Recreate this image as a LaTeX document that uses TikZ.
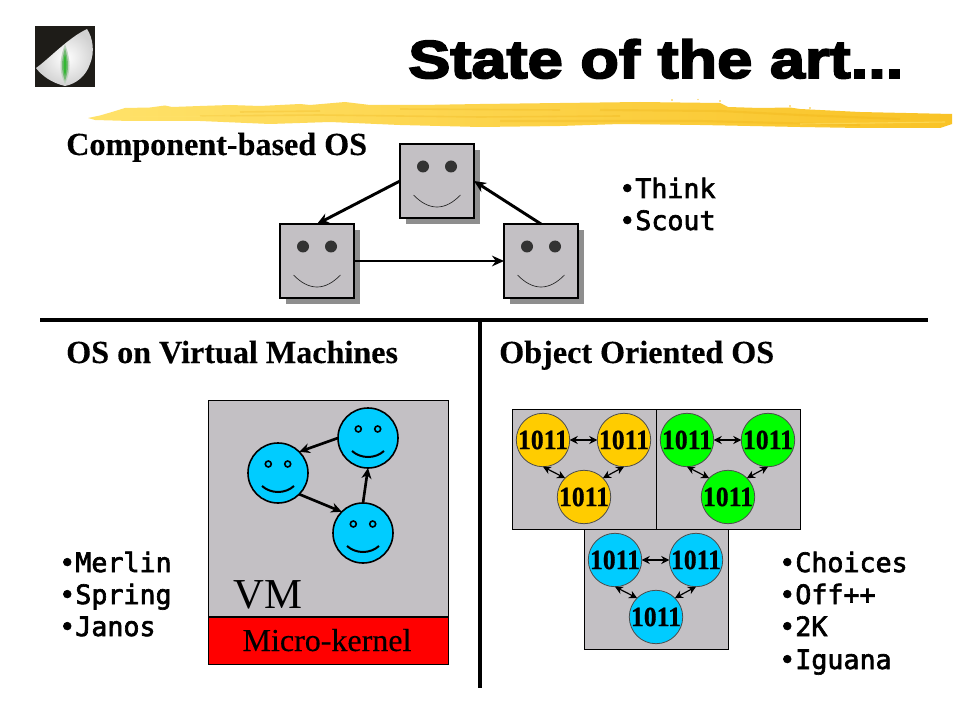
\documentclass[tikz,border=0pt]{standalone}
\usepackage{fontspec}
\usetikzlibrary{arrows.meta}
\setmainfont{Liberation Serif}
\newfontfamily\titlefont[FakeBold=3.6,FakeStretch=1.185]{Liberation Sans Bold}
\newfontfamily\headfont[FakeBold=0.25]{Liberation Serif Bold}
\newfontfamily\bitfont[FakeBold=0.5,FakeStretch=0.92]{Liberation Serif Bold}
\newfontfamily\monofont[FakeBold=2.4]{DejaVu Sans Mono}
\newfontfamily\kernelfont[FakeBold=0.3]{Liberation Serif}
\definecolor{boxgray}{HTML}{C3C0C4}
\definecolor{shadowgray}{HTML}{8E8E8E}
\definecolor{eyegray}{HTML}{333333}
\definecolor{skyfill}{HTML}{00CCFF}
\definecolor{amberfill}{HTML}{FFCC00}
\definecolor{greenfill}{HTML}{00FF00}
\definecolor{logoblack}{HTML}{1E1C18}
\definecolor{brushA}{HTML}{FFE26A}
\definecolor{brushB}{HTML}{FCD040}
\definecolor{brushC}{HTML}{F9C326}
\definecolor{brushD}{HTML}{E8A808}
\tikzset{
  x=0.75pt,y=-0.75pt,
  heading/.style={anchor=base west,inner sep=0,font=\headfont\fontsize{24.1}{26}\selectfont},
  bulletlist/.style={anchor=base west,inner sep=0,font=\monofont\fontsize{20}{24}\selectfont},
  facebox/.style={draw=black,line width=0.9pt,fill=boxgray,minimum size=55.5pt,inner sep=0,outer sep=0},
  facearrow/.style={line width=2.2pt,-{Stealth[length=9pt,width=8pt]}},
  smiley/.style={circle,draw=black,line width=1.2pt,fill=skyfill,minimum size=45pt,inner sep=0,outer sep=0},
  smileyarrow/.style={line width=2pt,-{Stealth[length=8pt,width=7.5pt]}},
  bitnode/.style={circle,draw=black!70,line width=0.6pt,minimum size=39pt,inner sep=0,outer sep=0,font=\bitfont\fontsize{21}{22}\selectfont},
  bitarrow/.style={line width=0.9pt,{Stealth[length=6pt,width=6pt]}-{Stealth[length=6pt,width=6pt]}},
  panel/.style={draw=black,line width=0.75pt,fill=boxgray},
  divider/.style={line width=3pt,black},
  streak/.style={brushD,opacity=.22,line width=1.2pt},
}
\newcommand{\boxface}[3]{%
  \fill[shadowgray] (#2-37+6,#3-37+6) rectangle (#2+37+6,#3+37+6);
  \node[facebox] (#1) at (#2,#3) {};
  \fill[eyegray] (#2-14,#3-14.5) circle[radius=6];
  \fill[eyegray] (#2+14,#3-14.5) circle[radius=6];
  \draw[line width=0.5pt,black!85] (#2-23.5,#3+14) .. controls (#2-8,#3+30) and (#2+8,#3+30) .. (#2+23.5,#3+14);
}
\newcommand{\roundface}[3]{%
  \node[smiley] (#1) at (#2,#3) {};
  \draw[line width=1.2pt] (#2-9.7,#3-9) circle[radius=3];
  \draw[line width=1.2pt] (#2+9.7,#3-9) circle[radius=3];
  \draw[line width=1.5pt] (#2-16,#3+13) .. controls (#2-7,#3+21) and (#2+7,#3+21) .. (#2+16,#3+13);
}
\newcommand{\bittriple}[4]{% prefix, colour, x of first, y of first
  \node[bitnode,fill=#2] (#1a) at (#3,#4) {1011};
  \node[bitnode,fill=#2] (#1b) at (#3+81,#4) {1011};
  \node[bitnode,fill=#2] (#1c) at (#3+41,#4+57) {1011};
  \draw[bitarrow] (#1a.east) -- (#1b.west);
  \draw[bitarrow] (#1a.south) -- (#1c.135);
  \draw[bitarrow] (#1b.south) -- (#1c.45);
}
\begin{document}
\begin{tikzpicture}
\useasboundingbox (0,0) rectangle (960,720);
\fill[white] (0,0) rectangle (960,720);

% logo
\fill[logoblack] (35,26) rectangle (95,87);
\shade[inner color=white,outer color=black!18] (36,68) .. controls (50,58) and (68,38) .. (87,29)
  .. controls (93,38) and (95,52) .. (90,64) .. controls (86,76) and (76,84) .. (65,86)
  .. controls (52,83) and (42,76) .. (36,68) -- cycle;
\fill[green!30!black!25!white] (65,44) .. controls (59,60) and (59,72) .. (65,84) .. controls (71,72) and (71,60) .. (65,44) -- cycle;
\fill[green!50!black!55!white] (65,48) .. controls (61,62) and (61,70) .. (65,81) .. controls (69,70) and (69,62) .. (65,48) -- cycle;
\fill[green!65!black!80!white] (65,54) .. controls (63,62) and (63,68) .. (65,76) .. controls (67,68) and (67,62) .. (65,54) -- cycle;

% brush stroke
\shade[left color=brushA,middle color=brushB,right color=brushC] (88,118) -- (100,115.5) -- (112,112) -- (125,108) -- (150,107.5) -- (165,105.5) -- (172,107) -- (200,106) -- (230,105)
  -- (260,106) -- (300,104) -- (310,105) -- (345,102) -- (370,105) -- (420,105) -- (480,104) -- (560,103) -- (640,102) -- (720,103) -- (728,107)
  -- (760,108) -- (790,107.5) -- (800,109) -- (860,112) -- (952,114) -- (952,124) -- (940,128) -- (860,128) -- (800,127) -- (700,125) -- (620,124)
  -- (560,126) -- (480,127) -- (400,125) -- (330,122) -- (270,124) -- (200,121) -- (130,121) -- (95,120) -- cycle;
\draw[streak] (240,112) -- (320,111);
\draw[streak] (200,116) -- (320,115) -- (480,117) -- (620,116);
\draw[streak,line width=1.6pt] (600,110) -- (720,111) -- (800,115) -- (900,119);
\draw[streak,line width=1.6pt] (500,121) -- (700,121) -- (860,125);
\draw[streak] (400,109) -- (560,110);
\draw[brushA,opacity=.6,line width=.8pt] (100,117) -- (230,116);
\draw[brushA,opacity=.6,line width=.8pt] (800,124) -- (945,122);
\fill[brushC] (672,100) circle[radius=.8] (698,99.5) circle[radius=.7] (720,101) circle[radius=.8] (790,106) circle[radius=.8] (810,108) circle[radius=.8];

% title
\node[anchor=base west,inner sep=0,font=\titlefont\fontsize{40}{44}\selectfont] (title) at (408,78) {State of the art...};

% headings
\node[heading] (h1) at (66,155) {Component-based OS};
\node[heading] (h2) at (66,363) {OS on Virtual Machines};
\node[heading] (h3) at (499,363) {Object Oriented OS};

% dividers
\coordinate (hl) at (40,320);
\coordinate (hr) at (928,320);
\coordinate (vt) at (480,320);
\coordinate (vb) at (480,688);
\draw[divider] (hl) -- (hr);
\draw[divider] (vt) -- (vb);

% component-based
\boxface{ct}{437}{181}
\boxface{cl}{317}{261}
\boxface{cr}{541}{261}
\draw[facearrow] (ct.west) -- (cl.north);
\draw[facearrow] (cl.east) -- (cr.west);
\draw[facearrow] (cr.north) -- (ct.east);
\node[bulletlist] (th) at (619,198) {•Think};
\node[bulletlist] (sc) at (619,230) {•Scout};

% VM
\node[panel,minimum width=180pt,minimum height=162pt,inner sep=0,outer sep=0,anchor=north west] (vm) at (208,400) {};
\node[draw=black,line width=0.75pt,fill=red,minimum width=180pt,minimum height=35.25pt,inner sep=0,outer sep=0,anchor=north west] (mk) at (208,617) {};
\node[anchor=base west,inner sep=0,font=\fontsize{32}{36}\selectfont] (vmt) at (233,608) {VM};
\node[anchor=base,inner sep=0,font=\kernelfont\fontsize{24}{26}\selectfont] (mkt) at (327,651) {Micro-kernel};
\roundface{sa}{368}{438}
\roundface{sb}{278}{473}
\roundface{sc2}{363}{533}
\draw[smileyarrow] (sa.west) -- (sb.45);
\draw[smileyarrow] (sb.-45) -- (sc2.135);
\draw[smileyarrow] (sc2.north) -- (sa.south);
\node[bulletlist] (l1) at (59,572) {•Merlin};
\node[bulletlist] (l2) at (59,604) {•Spring};
\node[bulletlist] (l3) at (59,636) {•Janos};

% object oriented
\node[panel,minimum width=108pt,minimum height=90pt,inner sep=0,outer sep=0,anchor=north west] (py) at (512,409) {};
\node[panel,minimum width=108pt,minimum height=90pt,inner sep=0,outer sep=0,anchor=north west] (pg) at (656,409) {};
\node[panel,minimum width=108pt,minimum height=90pt,inner sep=0,outer sep=0,anchor=north west] (pb) at (584,529) {};
\bittriple{y}{amberfill}{543}{440}
\bittriple{g}{greenfill}{687}{440}
\bittriple{b}{skyfill}{615}{560}
\node[bulletlist] (o1) at (779,572) {•Choices};
\node[bulletlist] (o2) at (779,604) {•Off++};
\node[bulletlist] (o3) at (779,636) {•2K};
\node[bulletlist] (o4) at (779,669) {•Iguana};
\end{tikzpicture}
\end{document}
